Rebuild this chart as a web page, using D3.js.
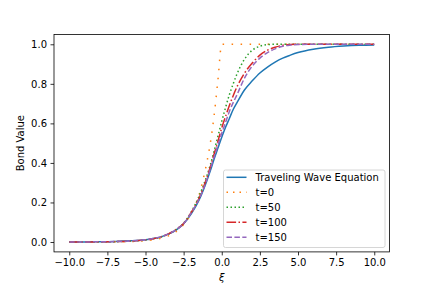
<!DOCTYPE html>
<html>
<head>
<meta charset="utf-8">
<script src="https://cdn.jsdelivr.net/npm/d3@7"></script>
<style>
  body { margin: 0; background: #fff; }
  svg { display: block; font-family: "DejaVu Sans", sans-serif; }
</style>
</head>
<body>
<svg id="chart" width="432" height="288"></svg>
<script>
// sample positions (xi)
const xi = [-10, -9, -8, -7, -6, -5, -4.5, -4, -3.5, -3, -2.5, -2, -1.5, -1, -0.75, -0.5, -0.25,
            0, 0.25, 0.5, 0.75, 1, 1.5, 2, 2.5, 3, 3.5, 4, 4.5, 5, 6, 7, 8, 9, 10];

// series values
const wave = [0.0003, 0.0006, 0.0013, 0.0028, 0.006, 0.012, 0.018, 0.026, 0.04, 0.06, 0.092, 0.142, 0.21, 0.305, 0.36, 0.42, 0.475,
              0.53, 0.58, 0.625, 0.67, 0.705, 0.77, 0.815, 0.855, 0.885, 0.91, 0.93, 0.945, 0.958, 0.975, 0.985, 0.991, 0.995, 0.997];
const t0   = [0.00005, 0.0001, 0.0003, 0.0009, 0.0025, 0.0068, 0.011, 0.019, 0.031, 0.052, 0.088, 0.145, 0.235, 0.395, 0.5, 0.64, 0.82,
              1.0, 1.0, 1.0, 1.0, 1.0, 1.0, 1.0, 1.0, 1.0, 1.0, 1.0, 1.0, 1.0, 1.0, 1.0, 1.0, 1.0, 1.0];
const t50  = [0.0001, 0.0002, 0.0006, 0.0016, 0.0042, 0.01, 0.016, 0.025, 0.04, 0.063, 0.095, 0.152, 0.23, 0.33, 0.39, 0.46, 0.535,
              0.61, 0.68, 0.745, 0.80, 0.85, 0.925, 0.97, 0.99, 0.998, 1.0, 1.0, 1.0, 1.0, 1.0, 1.0, 1.0, 1.0, 1.0];
const t100 = [0.0002, 0.0004, 0.0009, 0.0021, 0.005, 0.011, 0.017, 0.026, 0.041, 0.063, 0.094, 0.15, 0.22, 0.32, 0.38, 0.445, 0.51,
              0.577, 0.635, 0.69, 0.74, 0.785, 0.855, 0.905, 0.945, 0.97, 0.985, 0.995, 0.999, 1.0, 1.0, 1.0, 1.0, 1.0, 1.0];
const t150 = [0.0002, 0.0005, 0.001, 0.0024, 0.0055, 0.0115, 0.0175, 0.026, 0.041, 0.062, 0.093, 0.148, 0.215, 0.31, 0.37, 0.43, 0.49,
              0.55, 0.605, 0.66, 0.705, 0.745, 0.83, 0.89, 0.93, 0.958, 0.977, 0.99, 0.996, 0.999, 1.0, 1.0, 1.0, 1.0, 1.0];

const labels = ["Traveling Wave Equation", "t=0", "t=50", "t=100", "t=150"];
const xTicks = [-10, -7.5, -5, -2.5, 0, 2.5, 5, 7.5, 10];
const yTicks = [0, 0.2, 0.4, 0.6, 0.8, 1.0];

const series = [
  {name: labels[0], values: wave, color: "#1f77b4", dash: null},
  {name: labels[1], values: t0,   color: "#ff7f0e", dash: "1.5,7.5", legendDash: "1.5,5"},
  {name: labels[2], values: t50,  color: "#2ca02c", dash: "1.5,2.5"},
  {name: labels[3], values: t100, color: "#d62728", dash: "9.6,2.4,1.5,2.4"},
  {name: labels[4], values: t150, color: "#9467bd", dash: "5.5,2.4"}
];

const svg = d3.select("#chart");
const plotLeft = 54, plotRight = 389.5, plotTop = 34.4, plotBottom = 251.9;

const x = d3.scaleLinear().domain([-11, 11]).range([plotLeft, plotRight]);
const y = d3.scaleLinear().domain([-0.05, 1.05]).range([plotBottom, plotTop]);

// lines
const line = d3.line()
  .x((d, i) => x(xi[i]))
  .y(d => y(d))
  .curve(d3.curveMonotoneX);

series.forEach(s => {
  svg.append("path")
    .datum(s.values)
    .attr("fill", "none")
    .attr("stroke", s.color)
    .attr("stroke-width", 1.5)
    .attr("stroke-dasharray", s.dash)
    .attr("d", line);
});

// axes
const xAxis = svg.append("g")
  .attr("transform", `translate(0,${plotBottom})`)
  .call(d3.axisBottom(x).tickValues(xTicks).tickFormat(d3.format(".1f")).tickSize(3.5).tickSizeOuter(0).tickPadding(3.5));
const yAxis = svg.append("g")
  .attr("transform", `translate(${plotLeft},0)`)
  .call(d3.axisLeft(y).tickValues(yTicks).tickFormat(d3.format(".1f")).tickSize(3.5).tickSizeOuter(0).tickPadding(3.5));

[xAxis, yAxis].forEach(g => {
  g.select(".domain").remove();
  g.selectAll(".tick line").attr("stroke", "#000").attr("stroke-width", 0.8);
  g.selectAll(".tick text").attr("fill", "#000").style("font-size", "10px").style("font-family", "DejaVu Sans");
});

// frame
svg.append("rect")
  .attr("x", plotLeft).attr("y", plotTop)
  .attr("width", plotRight - plotLeft).attr("height", plotBottom - plotTop)
  .attr("fill", "none").attr("stroke", "#000").attr("stroke-width", 0.8);

// axis labels
svg.append("text")
  .attr("x", (plotLeft + plotRight) / 2).attr("y", 281)
  .attr("text-anchor", "middle")
  .style("font-size", "10px").style("font-style", "italic")
  .text("ξ");
svg.append("text")
  .attr("transform", `translate(24,${(plotTop + plotBottom) / 2}) rotate(-90)`)
  .attr("text-anchor", "middle")
  .style("font-size", "10px")
  .text("Bond Value");

// legend
const lg = svg.append("g");
lg.append("rect")
  .attr("x", 223.5).attr("y", 170).attr("width", 161.5).attr("height", 77.5)
  .attr("rx", 2)
  .attr("fill", "#fff").attr("fill-opacity", 0.8)
  .attr("stroke", "#ccc").attr("stroke-width", 0.8);
series.forEach((s, i) => {
  const cy = 177.3 + i * 15;
  lg.append("line")
    .attr("x1", 226.5).attr("x2", 246.5).attr("y1", cy).attr("y2", cy)
    .attr("stroke", s.color).attr("stroke-width", 1.5)
    .attr("stroke-dasharray", s.legendDash || s.dash);
  lg.append("text")
    .attr("x", 255.5).attr("y", cy + 3.6)
    .style("font-size", "10px")
    .text(s.name);
});
</script>
</body>
</html>
